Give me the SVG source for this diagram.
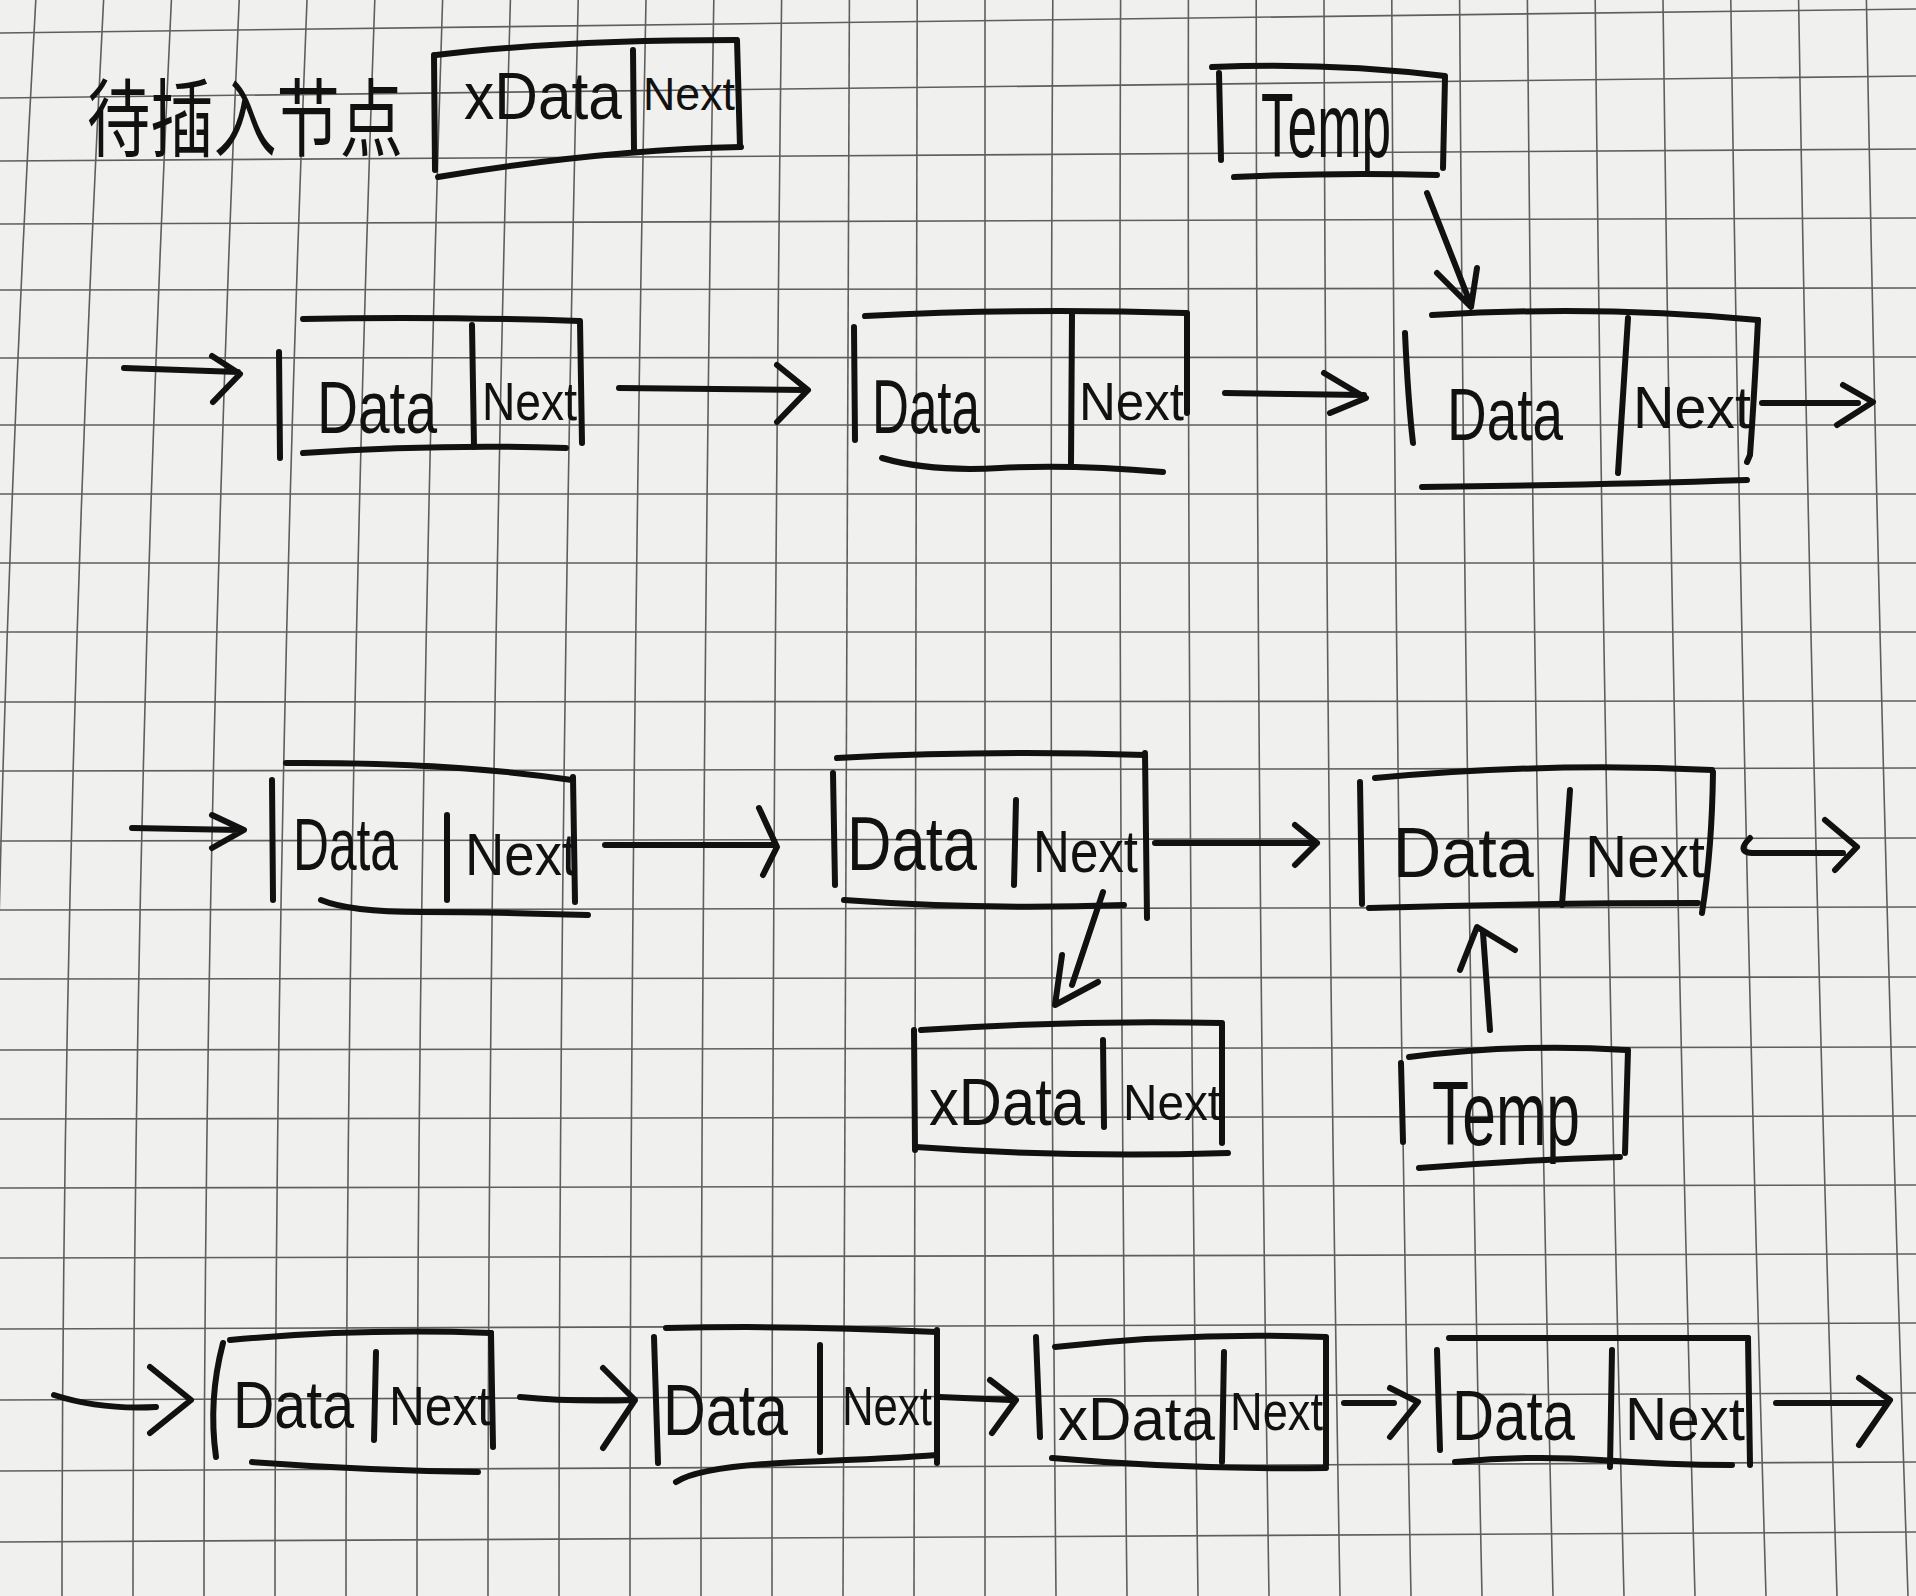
<svg xmlns="http://www.w3.org/2000/svg" width="1916" height="1596" viewBox="0 0 1916 1596">
<style>
.paper{fill:#f0f0ee}
.grid path{stroke:#5e5e5e;stroke-width:1.6;fill:none}
.ink{stroke:#111;stroke-width:6;fill:none;stroke-linecap:round;stroke-linejoin:round}
.t{font-family:"Liberation Sans",Arial,sans-serif;fill:#111}
.cn{font-family:"Noto Sans CJK SC","Noto Sans",sans-serif;fill:#111}
</style>
<rect class="paper" x="0" y="0" width="1916" height="1596"/>
<g id="grid" class="grid">
<path d="M35.8 0 Q-9 798 -9 1596"/>
<path d="M103.6 0 Q62 798 62 1596"/>
<path d="M171.4 0 Q133 798 133 1596"/>
<path d="M239.2 0 Q204 798 204 1596"/>
<path d="M307 0 Q275 798 275 1596"/>
<path d="M374.8 0 Q346 798 346 1596"/>
<path d="M442.6 0 Q417 798 417 1596"/>
<path d="M510.4 0 Q488 798 488 1596"/>
<path d="M578.2 0 Q559 798 559 1596"/>
<path d="M646 0 Q630 798 630 1596"/>
<path d="M713.8 0 Q701 798 701 1596"/>
<path d="M781.6 0 Q772 798 772 1596"/>
<path d="M849.4 0 Q843 798 843 1596"/>
<path d="M917.2 0 Q914 798 914 1596"/>
<path d="M985 0 L985 1596"/>
<path d="M1052.8 0 Q1048.4 798 1056 1596"/>
<path d="M1120.6 0 Q1117.8 798 1127 1596"/>
<path d="M1188.4 0 Q1187.2 798 1198 1596"/>
<path d="M1256.2 0 Q1256.6 798 1269 1596"/>
<path d="M1324 0 Q1326 798 1340 1596"/>
<path d="M1391.8 0 Q1395.4 798 1411 1596"/>
<path d="M1459.6 0 Q1464.8 798 1482 1596"/>
<path d="M1527.4 0 Q1534.2 798 1553 1596"/>
<path d="M1595.2 0 Q1603.6 798 1624 1596"/>
<path d="M1663 0 Q1673 798 1695 1596"/>
<path d="M1730.8 0 Q1742.4 798 1766 1596"/>
<path d="M1798.6 0 Q1811.8 798 1837 1596"/>
<path d="M1866.4 0 Q1881.2 798 1908 1596"/>
<path d="M0 33 L1916 9"/>
<path d="M0 98 L1916 76"/>
<path d="M0 161 L1916 149"/>
<path d="M0 224 L1916 218"/>
<path d="M0 290 L1916 288"/>
<path d="M0 358 L1916 357"/>
<path d="M0 425 L1916 425"/>
<path d="M0 494 L1916 494"/>
<path d="M0 563 L1916 563"/>
<path d="M0 632 L1916 632"/>
<path d="M0 702 L1916 701"/>
<path d="M0 771 L1916 768"/>
<path d="M0 841 L1916 838"/>
<path d="M0 910 L1916 907"/>
<path d="M0 979 L1916 977"/>
<path d="M0 1050 L1916 1047"/>
<path d="M0 1119 L1916 1116"/>
<path d="M0 1188 L1916 1185"/>
<path d="M0 1258 L1916 1254"/>
<path d="M0 1329 L1916 1323"/>
<path d="M0 1400 L1916 1393"/>
<path d="M0 1471 L1916 1462"/>
<path d="M0 1542 L1916 1532"/>
</g>

<g id="title">
<text class="cn" transform="translate(87,150) scale(1,1.35)" x="0" y="0" font-size="63" textLength="316" lengthAdjust="spacingAndGlyphs">待插入节点</text>
</g>

<g id="node-insert">
<path class="ink" d="M436 55 Q560 40 736 40"/>
<path class="ink" d="M434 55 L435 170"/>
<path class="ink" d="M737 40 L740 147"/>
<path class="ink" d="M633 50 L634 150"/>
<path class="ink" d="M438 177 Q600 150 741 147"/>
<text class="t" x="464" y="119" font-size="66" textLength="158" lengthAdjust="spacingAndGlyphs">xData</text>
<text class="t" x="643" y="110" font-size="46" textLength="92" lengthAdjust="spacingAndGlyphs">Next</text>
</g>

<g id="temp-1">
<path class="ink" d="M1212 67 Q1330 62 1445 76"/>
<path class="ink" d="M1445 78 L1443 168"/>
<path class="ink" d="M1219 73 L1221 160"/>
<path class="ink" d="M1234 177 Q1340 172 1437 175"/>
<text class="t" x="1261" y="157" font-size="90" textLength="130" lengthAdjust="spacingAndGlyphs">Temp</text>
</g>

<g id="node-r1-1">
<path class="ink" d="M279 352 L280 458"/>
<path class="ink" d="M303 319 Q430 316 579 321"/>
<path class="ink" d="M580 321 L582 443"/>
<path class="ink" d="M472 325 L474 447"/>
<path class="ink" d="M303 453 Q440 444 566 448"/>
<text class="t" x="317" y="433" font-size="74" textLength="120" lengthAdjust="spacingAndGlyphs">Data</text>
<text class="t" x="482" y="420" font-size="54" textLength="95" lengthAdjust="spacingAndGlyphs">Next</text>
</g>

<g id="node-r1-2">
<path class="ink" d="M854 327 L855 440"/>
<path class="ink" d="M865 316 Q1020 308 1185 313"/>
<path class="ink" d="M1072 315 L1071 463"/>
<path class="ink" d="M1187 313 L1187 413"/>
<path class="ink" d="M882 458 Q930 472 1000 468 T1163 472"/>
<text class="t" x="872" y="433" font-size="76" textLength="108" lengthAdjust="spacingAndGlyphs">Data</text>
<text class="t" x="1079" y="420" font-size="54" textLength="105" lengthAdjust="spacingAndGlyphs">Next</text>
</g>

<g id="node-r1-3">
<path class="ink" d="M1432 315 Q1600 305 1758 320"/>
<path class="ink" d="M1758 320 Q1754 400 1750 455 L1747 462"/>
<path class="ink" d="M1405 333 Q1408 400 1413 443"/>
<path class="ink" d="M1628 318 L1618 473"/>
<path class="ink" d="M1422 487 Q1600 485 1747 480"/>
<text class="t" x="1447" y="440" font-size="74" textLength="116" lengthAdjust="spacingAndGlyphs">Data</text>
<text class="t" x="1633" y="428" font-size="60" textLength="118" lengthAdjust="spacingAndGlyphs">Next</text>
</g>

<g id="node-r2-1">
<path class="ink" d="M272 780 L273 900"/>
<path class="ink" d="M286 763 Q450 762 572 780"/>
<path class="ink" d="M573 777 L575 902"/>
<path class="ink" d="M447 815 L447 900"/>
<path class="ink" d="M321 900 Q350 912 420 912 T588 915"/>
<text class="t" x="293" y="870" font-size="74" textLength="105" lengthAdjust="spacingAndGlyphs">Data</text>
<text class="t" x="465" y="875" font-size="60" textLength="112" lengthAdjust="spacingAndGlyphs">Next</text>
</g>

<g id="node-r2-2">
<path class="ink" d="M833 773 L835 885"/>
<path class="ink" d="M837 758 Q990 750 1145 755"/>
<path class="ink" d="M1145 753 L1147 918"/>
<path class="ink" d="M1016 800 L1014 885"/>
<path class="ink" d="M844 900 Q980 910 1124 905"/>
<text class="t" x="847" y="870" font-size="76" textLength="130" lengthAdjust="spacingAndGlyphs">Data</text>
<text class="t" x="1033" y="872" font-size="60" textLength="105" lengthAdjust="spacingAndGlyphs">Next</text>
</g>

<g id="node-r2-3">
<path class="ink" d="M1360 782 L1362 904"/>
<path class="ink" d="M1375 778 Q1550 762 1712 770"/>
<path class="ink" d="M1713 772 Q1712 850 1702 913"/>
<path class="ink" d="M1570 790 L1562 905"/>
<path class="ink" d="M1369 908 Q1540 903 1698 903"/>
<text class="t" x="1393" y="877" font-size="70" textLength="141" lengthAdjust="spacingAndGlyphs">Data</text>
<text class="t" x="1585" y="877" font-size="60" textLength="120" lengthAdjust="spacingAndGlyphs">Next</text>
</g>

<g id="node-r2-insert">
<path class="ink" d="M914 1030 L915 1150"/>
<path class="ink" d="M921 1030 Q1070 1020 1222 1023"/>
<path class="ink" d="M1222 1025 L1222 1143"/>
<path class="ink" d="M1103 1040 L1104 1127"/>
<path class="ink" d="M916 1147 Q1070 1158 1228 1153"/>
<text class="t" x="929" y="1125" font-size="66" textLength="156" lengthAdjust="spacingAndGlyphs">xData</text>
<text class="t" x="1123" y="1120" font-size="50" textLength="98" lengthAdjust="spacingAndGlyphs">Next</text>
</g>

<g id="temp-2">
<path class="ink" d="M1401 1063 L1403 1142"/>
<path class="ink" d="M1409 1057 Q1520 1043 1626 1050"/>
<path class="ink" d="M1628 1050 L1625 1153"/>
<path class="ink" d="M1419 1168 Q1520 1160 1620 1157"/>
<text class="t" x="1432" y="1145" font-size="90" textLength="148" lengthAdjust="spacingAndGlyphs">Temp</text>
</g>

<g id="node-r3-1">
<path class="ink" d="M223 1343 Q208 1400 216 1457"/>
<path class="ink" d="M230 1340 Q360 1328 491 1333"/>
<path class="ink" d="M491 1333 L493 1447"/>
<path class="ink" d="M376 1352 L374 1440"/>
<path class="ink" d="M252 1462 Q360 1470 478 1472"/>
<text class="t" x="233" y="1428" font-size="66" textLength="121" lengthAdjust="spacingAndGlyphs">Data</text>
<text class="t" x="389" y="1425" font-size="56" textLength="102" lengthAdjust="spacingAndGlyphs">Next</text>
</g>

<g id="node-r3-2">
<path class="ink" d="M654 1337 L658 1463"/>
<path class="ink" d="M666 1328 Q800 1325 937 1332"/>
<path class="ink" d="M937 1330 L937 1463"/>
<path class="ink" d="M820 1345 L820 1452"/>
<path class="ink" d="M676 1482 Q700 1466 800 1462 T937 1455"/>
<text class="t" x="663" y="1435" font-size="72" textLength="125" lengthAdjust="spacingAndGlyphs">Data</text>
<text class="t" x="842" y="1425" font-size="56" textLength="90" lengthAdjust="spacingAndGlyphs">Next</text>
</g>

<g id="node-r3-insert">
<path class="ink" d="M1036 1337 L1040 1437"/>
<path class="ink" d="M1055 1347 Q1190 1332 1326 1337"/>
<path class="ink" d="M1326 1338 L1326 1465"/>
<path class="ink" d="M1224 1352 L1222 1462"/>
<path class="ink" d="M1052 1458 Q1190 1470 1326 1468"/>
<text class="t" x="1058" y="1440" font-size="62" textLength="157" lengthAdjust="spacingAndGlyphs">xData</text>
<text class="t" x="1230" y="1430" font-size="54" textLength="93" lengthAdjust="spacingAndGlyphs">Next</text>
</g>

<g id="node-r3-4">
<path class="ink" d="M1437 1350 L1440 1450"/>
<path class="ink" d="M1449 1338 L1748 1338"/>
<path class="ink" d="M1748 1338 L1750 1465"/>
<path class="ink" d="M1612 1350 L1610 1467"/>
<path class="ink" d="M1455 1462 Q1530 1455 1600 1460 T1732 1465"/>
<text class="t" x="1452" y="1440" font-size="70" textLength="123" lengthAdjust="spacingAndGlyphs">Data</text>
<text class="t" x="1625" y="1440" font-size="62" textLength="120" lengthAdjust="spacingAndGlyphs">Next</text>
</g>

<g id="connectors">
<path class="ink" d="M124 368 L238 372 M212 356 L240 374 L213 402"/>
<path class="ink" d="M619 388 L805 390 M777 365 L808 390 L777 422"/>
<path class="ink" d="M1225 393 L1364 395 M1324 373 L1366 398 L1330 413"/>
<path class="ink" d="M1762 403 L1858 403 M1843 385 L1873 402 L1837 425"/>
<path class="ink" d="M1427 193 L1471 305 M1437 273 L1471 307 L1477 268"/>
<path class="ink" d="M132 828 L240 830 M212 815 L244 830 L212 848"/>
<path class="ink" d="M605 845 L773 845 M759 808 L777 847 L763 875"/>
<path class="ink" d="M1155 843 L1317 843 M1295 825 L1317 843 L1295 865"/>
<path class="ink" d="M1103 892 L1072 985 M1062 955 L1055 1005 L1098 982"/>
<path class="ink" d="M1750 838 Q1736 852 1752 853 L1843 853 M1825 820 L1857 847 L1835 870"/>
<path class="ink" d="M1490 1030 L1483 933 M1460 970 L1477 927 L1515 950"/>
<path class="ink" d="M54 1395 Q100 1410 156 1407 M150 1367 L191 1400 L150 1433"/>
<path class="ink" d="M520 1397 Q570 1402 635 1400 M603 1368 L635 1400 L603 1448"/>
<path class="ink" d="M940 1397 L1010 1400 M990 1380 L1016 1400 L992 1433"/>
<path class="ink" d="M1344 1403 L1394 1403 M1390 1388 L1418 1402 L1390 1437"/>
<path class="ink" d="M1776 1403 L1887 1403 M1859 1378 L1890 1400 L1859 1445"/>
</g>
</svg>
